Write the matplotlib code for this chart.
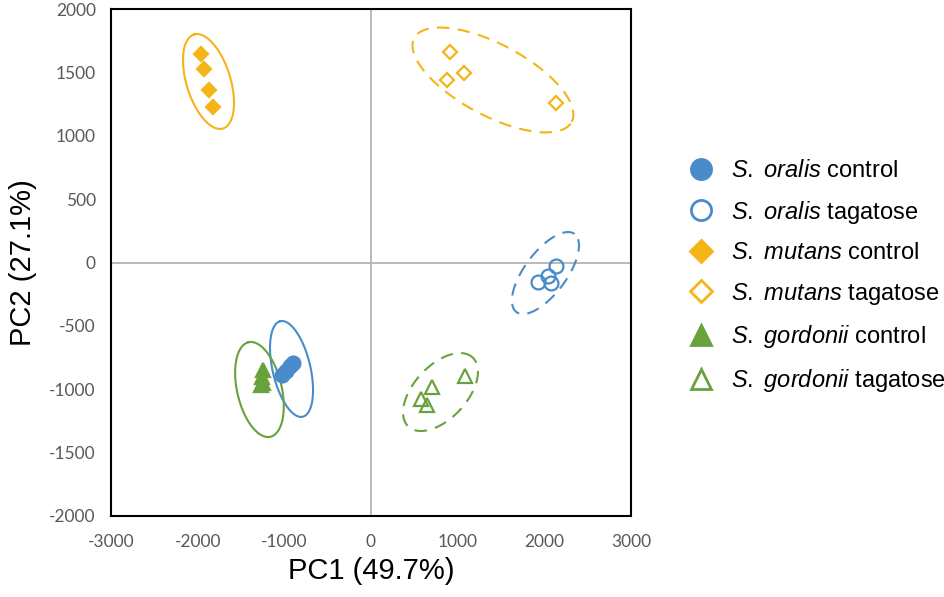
"""PCA score plot of Streptococcus species grown with/without tagatose."""
import numpy as np
import matplotlib

matplotlib.use("Agg")
import matplotlib.pyplot as plt
from matplotlib.lines import Line2D

plt.rcParams["font.family"] = ["Liberation Sans", "DejaVu Sans"]
plt.rcParams["mathtext.fontset"] = "custom"
plt.rcParams["mathtext.it"] = "Liberation Sans:italic"
plt.rcParams["mathtext.rm"] = "Liberation Sans"
plt.rcParams["axes.unicode_minus"] = False

BLUE = "#4a8bcb"
ORANGE = "#f5b417"
GREEN = "#67a23d"

# PCA scores
oralis_ctrl_x = [-900, -935, -985, -1030]
oralis_ctrl_y = [-790, -820, -856, -890]
oralis_tag_x = [2134, 2042, 1927, 2077]
oralis_tag_y = [-28, -107, -154, -162]
mutans_ctrl_x = [-1962, -1927, -1869, -1823]
mutans_ctrl_y = [1645, 1527, 1361, 1227]
mutans_tag_x = [911, 1073, 877, 2134]
mutans_tag_y = [1661, 1495, 1440, 1258]
gordonii_ctrl_x = [-1246, -1258, -1246, -1269]
gordonii_ctrl_y = [-848, -904, -951, -967]
gordonii_tag_x = [1084, 704, 577, 646]
gordonii_tag_y = [-896, -982, -1077, -1124]

# confidence ellipses: centre, major semi-axis vector (data units), minor/major ratio
ell_center = {
    "oralis_ctrl": (-917, -840), "oralis_tag": (2013, -83),
    "mutans_ctrl": (-1875, 1428), "mutans_tag": (1407, 1440),
    "gordonii_ctrl": (-1287, -1002), "gordonii_tag": (802, -1022),
}
ell_major = {
    "oralis_ctrl": (-129, 377), "oralis_tag": (335, 308),
    "mutans_ctrl": (-167, 371), "mutans_tag": (908, -331),
    "gordonii_ctrl": (-126, 373), "gordonii_tag": (370, 273),
}
ell_ratio = {
    "oralis_ctrl": 0.385, "oralis_tag": 0.43,
    "mutans_ctrl": 0.447, "mutans_tag": 0.40,
    "gordonii_ctrl": 0.46, "gordonii_tag": 0.56,
}

groups = [
    ("oralis_ctrl", oralis_ctrl_x, oralis_ctrl_y, "o", 10, BLUE, True, r"$\it{S.}$ $\it{oralis}$ control"),
    ("oralis_tag", oralis_tag_x, oralis_tag_y, "o", 10, BLUE, False, r"$\it{S.}$ $\it{oralis}$ tagatose"),
    ("mutans_ctrl", mutans_ctrl_x, mutans_ctrl_y, "D", 7.5, ORANGE, True, r"$\it{S.}$ $\it{mutans}$ control"),
    ("mutans_tag", mutans_tag_x, mutans_tag_y, "D", 7.5, ORANGE, False, r"$\it{S.}$ $\it{mutans}$ tagatose"),
    ("gordonii_ctrl", gordonii_ctrl_x, gordonii_ctrl_y, "^", 10, GREEN, True, r"$\it{S.}$ $\it{gordonii}$ control"),
    ("gordonii_tag", gordonii_tag_x, gordonii_tag_y, "^", 10, GREEN, False, r"$\it{S.}$ $\it{gordonii}$ tagatose"),
]

W, H = 945, 597
fig = plt.figure(figsize=(W / 100, H / 100), dpi=100)
ax = fig.add_axes([111 / W, (H - 516) / H, 520 / W, 507 / H])
xmin, xmax, ymin, ymax = -3000, 3000, -2000, 2000
ax.set_xlim(xmin, xmax)
ax.set_ylim(ymin, ymax)

# pixels per data unit, so ellipse axes stay perpendicular on screen
sx = 520 / (xmax - xmin)
sy = 507 / (ymax - ymin)

ax.axhline(0, color="#b4b4b4", lw=1.3, zorder=1)
ax.axvline(0, color="#b4b4b4", lw=1.3, zorder=1)

t = np.linspace(0, 2 * np.pi, 300)
handles = []
for key, xs, ys, mk, ms, col, filled, label in groups:
    cx, cy = ell_center[key]
    ux, uy = ell_major[key]
    r = ell_ratio[key]
    vx = -r * uy * sy / sx
    vy = r * ux * sx / sy
    ex = cx + ux * np.cos(t) + vx * np.sin(t)
    ey = cy + uy * np.cos(t) + vy * np.sin(t)
    ls = "-" if filled else (0, (6, 4))
    ax.plot(ex, ey, color=col, lw=1.5, ls=ls, zorder=2)
    ax.plot(xs, ys, ls="none", marker=mk, ms=ms, mec=col, mew=1.6,
            mfc=col if filled else "none", zorder=3)
    handles.append(Line2D([], [], ls="none", marker=mk, ms=ms * 1.45, mec=col, mew=2.0,
                          mfc=col if filled else "none", label=label))

ax.set_xticks(np.arange(-3000, 3001, 1000))
ax.set_yticks(np.arange(-2000, 2001, 500))
ax.tick_params(length=0, labelsize=12.5, labelcolor="#595959")
ax.tick_params(axis="x", pad=13)
ax.tick_params(axis="y", pad=11)
for lab in ax.get_xticklabels() + ax.get_yticklabels():
    lab.set_fontfamily(["Lato", "DejaVu Sans"])
for sp in ax.spines.values():
    sp.set_linewidth(1.5)
    sp.set_color("black")

ax.set_xlabel("PC1 (49.7%)", fontsize=21, labelpad=5)
ax.set_ylabel("PC2 (27.1%)", fontsize=21, labelpad=9)

fig.legend(handles=handles, loc="center left", bbox_to_anchor=(668 / W, 1 - 277 / H),
           frameon=False, fontsize=17, labelspacing=0.7, handlelength=1.4,
           handletextpad=0.55, borderpad=0.2)

fig.savefig("out.png", dpi=100)
